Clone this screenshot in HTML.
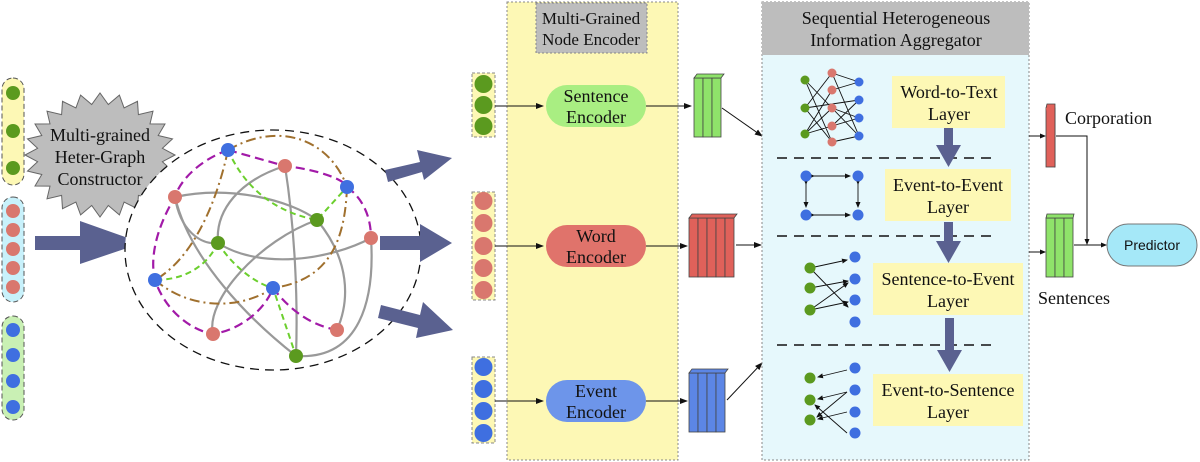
<!DOCTYPE html>
<html><head><meta charset="utf-8"><style>body{margin:0;background:#fff}svg{display:block}text{font-family:"Liberation Serif",serif;fill:#111}</style></head><body>
<svg width="1200" height="462" viewBox="0 0 1200 462" xmlns="http://www.w3.org/2000/svg">
<defs>
<marker id="a" markerWidth="8" markerHeight="8" refX="7" refY="4" orient="auto" markerUnits="userSpaceOnUse"><path d="M0,1 L8,4 L0,7z" fill="#111"/></marker>
<marker id="s" markerWidth="6" markerHeight="6" refX="5" refY="3" orient="auto" markerUnits="userSpaceOnUse"><path d="M0,0.5 L6,3 L0,5.5z" fill="#111"/></marker>
</defs>
<!-- left pills -->
<rect x="2" y="78" width="22" height="107" rx="11" fill="#fdf8b5" stroke="#555" stroke-dasharray="5 3"/>
<g fill="#5b9a1f"><circle cx="13" cy="93" r="7"/><circle cx="13" cy="131" r="7"/><circle cx="13" cy="168" r="7"/></g>
<rect x="2" y="197" width="22" height="105" rx="11" fill="#c8f1fb" stroke="#555" stroke-dasharray="5 3"/>
<g fill="#d9776e"><circle cx="13" cy="211" r="7"/><circle cx="13" cy="230" r="7"/><circle cx="13" cy="249" r="7"/><circle cx="13" cy="268" r="7"/><circle cx="13" cy="287" r="7"/></g>
<rect x="2" y="316" width="22" height="104" rx="11" fill="#c9f0b4" stroke="#555" stroke-dasharray="5 3"/>
<g fill="#3f6fe0"><circle cx="13" cy="330" r="7"/><circle cx="13" cy="355" r="7"/><circle cx="13" cy="381" r="7"/><circle cx="13" cy="407" r="7"/></g>
<!-- starburst -->
<polygon fill="#bdbdbd" stroke="#666" stroke-width="1" points="175,155 162.4,161.7 172.5,171.1 158.2,174.5 165,186 150,186.1 153,198.8 138.4,195.4 137.5,208.7 124.1,202.1 119.4,214.9 108.3,205.5 100,217 91.7,205.5 80.6,214.9 75.9,202.1 62.5,208.7 61.6,195.4 47,198.8 50,186.1 35,186 41.8,174.5 27.5,171.1 37.6,161.7 25,155 37.6,148.3 27.5,138.9 41.8,135.5 35,124 50,123.9 47,111.2 61.6,114.6 62.5,101.3 75.9,107.9 80.6,95.1 91.7,104.5 100,93 108.3,104.5 119.4,95.1 124.1,107.9 137.5,101.3 138.4,114.6 153,111.2 150,123.9 165,124 158.2,135.5 172.5,138.9 162.4,148.3"/>
<text x="100" y="141" font-size="18" text-anchor="middle">Multi-grained</text>
<text x="100" y="163" font-size="18" text-anchor="middle">Heter-Graph</text>
<text x="100" y="185" font-size="18" text-anchor="middle">Constructor</text>
<!-- big arrow -->
<path d="M35,236 L80,236 L80,221 L142,243 L80,264 L80,250 L35,250z" fill="#5a6190"/>
<!-- graph -->
<ellipse cx="273" cy="250" rx="148" ry="120" fill="#fff" stroke="#111" stroke-width="1.3" stroke-dasharray="9 6"/>
<g fill="none" stroke="#999" stroke-width="2.2">
<path d="M175,197 C230,185 290,200 317,220"/>
<path d="M175,197 C190,260 250,320 296,356"/>
<path d="M175,197 C180,230 200,245 218,243"/>
<path d="M285,166 C240,180 215,210 218,243"/>
<path d="M285,166 C295,230 298,300 296,356"/>
<path d="M218,243 C260,270 330,260 371,238"/>
<path d="M317,220 C260,240 205,300 213,334"/>
<path d="M317,220 C350,260 350,300 337,330"/>
<path d="M371,238 C375,300 360,360 296,356"/>
</g>
<g fill="none" stroke="#a0702e" stroke-width="2" stroke-dasharray="10 4 2 4">
<path d="M228,150 C280,120 330,140 347,187"/>
<path d="M228,150 C215,210 190,260 155,280"/>
<path d="M347,187 C345,240 330,280 273,288"/>
<path d="M155,280 C190,310 240,310 273,288"/>
</g>
<g fill="none" stroke="#a21aa8" stroke-width="2.2" stroke-dasharray="9 5">
<path d="M228,150 L285,166 C320,170 345,180 347,187 C365,200 371,220 371,238"/>
<path d="M228,150 C200,160 180,180 175,197 C155,230 150,260 155,280 C165,310 190,330 213,334 C240,330 265,310 273,288 C290,310 310,325 337,330"/>
</g>
<g fill="none" stroke="#6ccf2e" stroke-width="2" stroke-dasharray="6 4">
<path d="M228,150 C250,200 290,215 317,220 L347,187"/>
<path d="M218,243 C205,270 180,280 155,280"/>
<path d="M218,243 C235,270 260,285 273,288 L296,356"/>
</g>
<g fill="#3f6fe0"><circle cx="228" cy="150" r="7"/><circle cx="347" cy="187" r="7"/><circle cx="155" cy="280" r="7"/><circle cx="273" cy="288" r="7"/></g>
<g fill="#d9776e"><circle cx="285" cy="166" r="7"/><circle cx="175" cy="197" r="7"/><circle cx="371" cy="238" r="7"/><circle cx="213" cy="334" r="7"/><circle cx="337" cy="330" r="7"/></g>
<g fill="#5b9a1f"><circle cx="317" cy="220" r="7"/><circle cx="218" cy="243" r="7"/><circle cx="296" cy="356" r="7"/></g>
<!-- right arrows -->
<g fill="#5a6190">
<path d="M385,170 L420,162 L417,150 L452,158 L424,180 L422,172 L388,182z"/>
<path d="M380,236 L420,236 L420,224 L452,243 L420,262 L420,250 L380,250z"/>
<path d="M381,305 L420,315 L423,302 L453,330 L416,338 L418,328 L378,318z"/>
</g>
<!-- middle -->
<rect x="507" y="2" width="171" height="458" fill="#fdf8b5" stroke="#888" stroke-dasharray="2 2"/>
<rect x="536" y="3" width="111" height="50" fill="#bdbdbd" stroke="#888" stroke-dasharray="2 2"/>
<text x="591" y="24" font-size="17" text-anchor="middle">Multi-Grained</text>
<text x="591" y="45" font-size="17" text-anchor="middle">Node Encoder</text>
<rect x="472" y="73" width="23" height="64" fill="#fdf8b5" stroke="#888" stroke-dasharray="3 2"/>
<g fill="#5b9a1f"><circle cx="483.5" cy="84" r="9"/><circle cx="483.5" cy="105" r="9"/><circle cx="483.5" cy="126" r="9"/></g>
<rect x="472" y="192" width="23" height="108" fill="#fdf8b5" stroke="#888" stroke-dasharray="3 2"/>
<g fill="#d9776e"><circle cx="483.5" cy="201" r="9"/><circle cx="483.5" cy="223" r="9"/><circle cx="483.5" cy="246" r="9"/><circle cx="483.5" cy="268" r="9"/><circle cx="483.5" cy="290" r="9"/></g>
<rect x="472" y="357" width="23" height="86" fill="#fdf8b5" stroke="#888" stroke-dasharray="3 2"/>
<g fill="#3f6fe0"><circle cx="483.5" cy="367" r="9"/><circle cx="483.5" cy="389" r="9"/><circle cx="483.5" cy="411" r="9"/><circle cx="483.5" cy="433" r="9"/></g>
<g stroke="#111" stroke-width="1" marker-end="url(#a)">
<line x1="495" y1="106" x2="543" y2="106"/><line x1="646" y1="106" x2="691" y2="106"/>
<line x1="495" y1="246" x2="543" y2="246"/><line x1="646" y1="246" x2="687" y2="246"/>
<line x1="495" y1="401" x2="543" y2="401"/><line x1="646" y1="401" x2="687" y2="401"/>
<line x1="722" y1="108" x2="762" y2="136"/><line x1="736" y1="245" x2="761" y2="245"/><line x1="727" y1="400" x2="762" y2="363"/>
</g>
<rect x="546" y="85" width="100" height="42" rx="21" fill="#a9ee82"/>
<text x="596" y="102" font-size="18" text-anchor="middle">Sentence</text><text x="596" y="123" font-size="18" text-anchor="middle">Encoder</text>
<rect x="546" y="225" width="100" height="42" rx="21" fill="#e0736b"/>
<text x="596" y="242" font-size="18" text-anchor="middle">Word</text><text x="596" y="263" font-size="18" text-anchor="middle">Encoder</text>
<rect x="546" y="380" width="100" height="42" rx="21" fill="#6d95ea"/>
<text x="596" y="397" font-size="18" text-anchor="middle">Event</text><text x="596" y="418" font-size="18" text-anchor="middle">Encoder</text>
<!-- vectors -->
<g stroke="#444" stroke-width="0.8">
<g fill="#8fe36a"><rect x="694" y="78" width="9" height="59"/><rect x="703" y="78" width="9" height="59"/><rect x="712" y="78" width="9" height="59"/><path d="M694,78 l3,-4 h27 l-3,4z"/></g>
<g fill="#e0615a"><rect x="689" y="218" width="9" height="59"/><rect x="698" y="218" width="9" height="59"/><rect x="707" y="218" width="9" height="59"/><rect x="716" y="218" width="9" height="59"/><rect x="725" y="218" width="9" height="59"/><path d="M689,218 l3,-4 h45 l-3,4z"/></g>
<g fill="#5c86e6"><rect x="689" y="373" width="9" height="59"/><rect x="698" y="373" width="9" height="59"/><rect x="707" y="373" width="9" height="59"/><rect x="716" y="373" width="9" height="59"/><path d="M689,373 l3,-4 h36 l-3,4z"/></g>
</g>
<!-- aggregator -->
<rect x="762" y="2" width="267" height="458" fill="#e6f8fc" stroke="#888" stroke-dasharray="2 2"/>
<rect x="762" y="2" width="267" height="53" fill="#bdbdbd"/>
<text x="896" y="24" font-size="18" text-anchor="middle">Sequential Heterogeneous</text>
<text x="896" y="46" font-size="18" text-anchor="middle">Information Aggregator</text>
<rect x="892" y="76" width="113" height="52" fill="#fdf8b5"/><text x="949" y="98" font-size="18" text-anchor="middle">Word-to-Text</text><text x="949" y="120" font-size="18" text-anchor="middle">Layer</text>
<rect x="885" y="169" width="126" height="52" fill="#fdf8b5"/><text x="948" y="191" font-size="18" text-anchor="middle">Event-to-Event</text><text x="948" y="213" font-size="18" text-anchor="middle">Layer</text>
<rect x="873" y="263" width="150" height="52" fill="#fdf8b5"/><text x="948" y="285" font-size="18" text-anchor="middle">Sentence-to-Event</text><text x="948" y="307" font-size="18" text-anchor="middle">Layer</text>
<rect x="873" y="374" width="150" height="52" fill="#fdf8b5"/><text x="948" y="396" font-size="18" text-anchor="middle">Event-to-Sentence</text><text x="948" y="418" font-size="18" text-anchor="middle">Layer</text>
<g stroke="#111" stroke-width="1.5" stroke-dasharray="10 7"><line x1="777" y1="158" x2="996" y2="158"/><line x1="777" y1="236" x2="996" y2="236"/><line x1="777" y1="345" x2="996" y2="345"/></g>
<g fill="#5a6190">
<path d="M944,128 h9 v17 h8 l-12.5,22 l-12.5,-22 h8z"/>
<path d="M944,222 h9 v19 h8 l-12.5,22 l-12.5,-22 h8z"/>
<path d="M945,318 h9 v32 h8 l-12.5,22 l-12.5,-22 h8z"/>
</g>
<!-- small graphs -->
<g stroke="#111" stroke-width="0.9">
<path d="M805,80 L832,142 M805,80 L859,136 M805,108 L832,73 M805,108 L859,100 M805,134 L832,90 M805,134 L832,126 M832,73 L859,82 M832,73 L859,136 M832,90 L859,82 M832,108 L859,118 M832,126 L859,100 M832,142 L805,108 M832,142 L859,136 M805,134 L859,118 M805,80 L832,108 M832,108 L805,134"/>
<g marker-end="url(#s)" marker-start="url(#s)"><line x1="814" y1="176" x2="850" y2="176"/><line x1="814" y1="215" x2="850" y2="215"/><line x1="806" y1="184" x2="806" y2="207"/><line x1="858" y1="184" x2="858" y2="207"/></g>
<g marker-end="url(#s)"><line x1="810" y1="268" x2="847" y2="260"/><line x1="810" y1="268" x2="848" y2="307"/><line x1="810" y1="288" x2="848" y2="281"/><line x1="810" y1="310" x2="848" y2="283"/><line x1="810" y1="310" x2="848" y2="302"/>
<line x1="847" y1="370" x2="818" y2="377"/><line x1="847" y1="392" x2="818" y2="399"/><line x1="847" y1="433" x2="815" y2="405"/><line x1="847" y1="412" x2="818" y2="419"/><line x1="847" y1="392" x2="817" y2="417"/></g>
</g>
<g fill="#3f6fe0"><circle cx="859" cy="82" r="4.5"/><circle cx="859" cy="100" r="4.5"/><circle cx="859" cy="118" r="4.5"/><circle cx="859" cy="136" r="4.5"/>
<circle cx="806" cy="176" r="5.5"/><circle cx="858" cy="176" r="5.5"/><circle cx="806" cy="215" r="5.5"/><circle cx="858" cy="215" r="5.5"/>
<circle cx="855" cy="257" r="5.5"/><circle cx="855" cy="279" r="5.5"/><circle cx="855" cy="300" r="5.5"/><circle cx="855" cy="322" r="5.5"/>
<circle cx="855" cy="368" r="5.5"/><circle cx="855" cy="390" r="5.5"/><circle cx="855" cy="412" r="5.5"/><circle cx="855" cy="433" r="5.5"/></g>
<g fill="#d9776e"><circle cx="832" cy="73" r="4.5"/><circle cx="832" cy="90" r="4.5"/><circle cx="832" cy="108" r="4.5"/><circle cx="832" cy="126" r="4.5"/><circle cx="832" cy="142" r="4.5"/></g>
<g fill="#5b9a1f"><circle cx="805" cy="80" r="4.5"/><circle cx="805" cy="108" r="4.5"/><circle cx="805" cy="134" r="4.5"/>
<circle cx="810" cy="268" r="5.5"/><circle cx="810" cy="288" r="5.5"/><circle cx="810" cy="310" r="5.5"/>
<circle cx="810" cy="378" r="5.5"/><circle cx="810" cy="400" r="5.5"/><circle cx="810" cy="420" r="5.5"/></g>
<!-- outputs -->
<g stroke="#111" stroke-width="1" fill="none">
<line x1="1029" y1="136" x2="1045" y2="136" marker-end="url(#s)"/>
<line x1="1029" y1="252" x2="1045" y2="252" marker-end="url(#s)"/>
<path d="M1056,136 H1087 V244" marker-end="url(#s)"/>
<line x1="1074" y1="245" x2="1106" y2="245" marker-end="url(#s)"/>
</g>
<g stroke="#444" stroke-width="0.8">
<rect x="1046" y="108" width="9" height="59" fill="#e0615a"/><path d="M1046,108 l1,-4 h8 v63 l-1,0" fill="#e0615a"/>
<g fill="#8fe36a"><rect x="1046" y="218" width="9" height="59"/><rect x="1055" y="218" width="9" height="59"/><rect x="1064" y="218" width="9" height="59"/><path d="M1046,218 l1,-4 h27 l-1,4z"/></g>
</g>
<text x="1065" y="124" font-size="18">Corporation</text>
<text x="1038" y="304" font-size="18">Sentences</text>
<rect x="1107" y="224" width="90" height="42" rx="21" fill="#a5e8f8" stroke="#777"/>
<text x="1152" y="250" font-size="14" text-anchor="middle" style="font-family:'Liberation Sans',sans-serif">Predictor</text>
</svg>
</body></html>
